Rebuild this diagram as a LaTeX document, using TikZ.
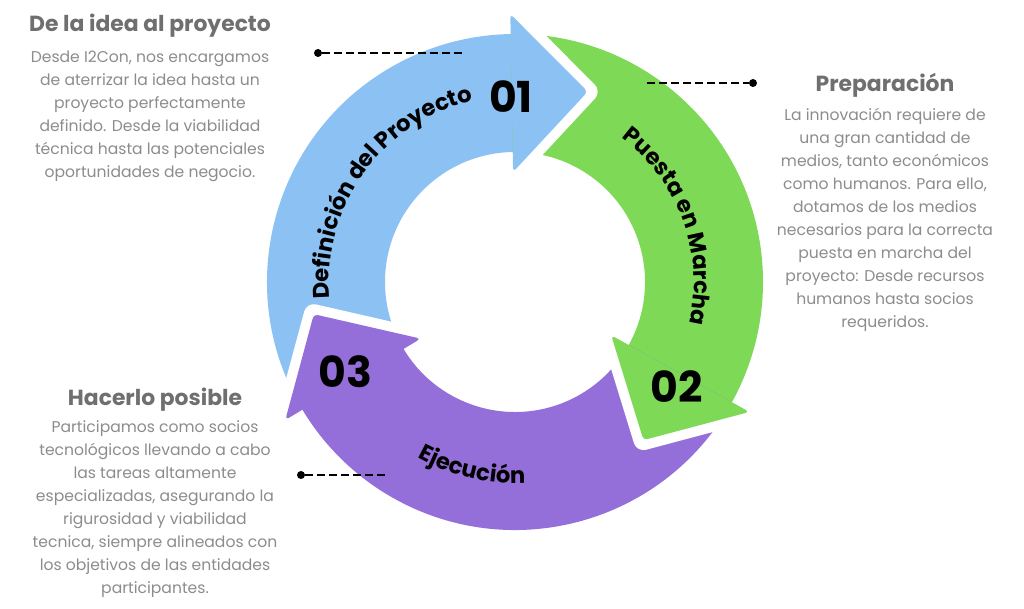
\documentclass[tikz,border=0pt]{standalone}
\usepackage{fontspec}
\setmainfont{Poppins}
\usetikzlibrary{calc,decorations.text}
\definecolor{blueA}{HTML}{8BC1F3}
\definecolor{greenA}{HTML}{7ED957}
\definecolor{purpleA}{HTML}{956FD9}
\definecolor{titlegray}{HTML}{6F6F6F}
\definecolor{bodygray}{HTML}{8C8C8C}
\newcommand{\arcfont}{\bfseries\fontsize{17}{19}\selectfont}

\begin{document}
\begin{tikzpicture}[x=0.75pt,y=0.75pt,
    headtext/.style={font=\bfseries\fontsize{16.4}{19}\selectfont,text=titlegray},
    bodytext/.style={font=\fontsize{11.7}{17.25}\selectfont,text=bodygray,align=center},
    enddot/.style={circle,fill,inner sep=0pt,minimum size=6pt},
    dashline/.style={line width=1.1pt,dash pattern=on 6pt off 3pt},
    steplabel/.style={font=\bfseries\fontsize{32}{32}\selectfont}]
    \useasboundingbox (0,0) rectangle (1024,609);

    % ring of three arrows
    \begin{scope}[shift={(515,327)}]
        \fill[blueA] (211:248) arc[start angle=211,end angle=90,radius=248]
            -- (90:130) arc[start angle=90,end angle=211,radius=130] -- cycle;
        \fill[greenA] (91:248) arc[start angle=91,end angle=-30,radius=248]
            -- (-30:130) arc[start angle=-30,end angle=91,radius=130] -- cycle;
        \fill[purpleA] (-29:248) arc[start angle=-29,end angle=-150,radius=248]
            -- (-150:130) arc[start angle=-150,end angle=-29,radius=130] -- cycle;
        \foreach \b/\col in {91/blueA,-29/greenA,-149/purpleA}{
            \draw[white,line width=15pt,line join=round] (\b:268) -- ($(\b:189)+(\b-90:76)$) -- (\b:110);
            \fill[\col,rounded corners=3pt] (\b:268) -- ($(\b:189)+(\b-90:76)$) -- (\b:110) -- cycle;
        }
        \path[decorate,decoration={text along path,text align=center,
            text={|\arcfont|Definición del Proyecto}}]
            (204:186) arc[start angle=204,end angle=84,radius=186];
        \path[decorate,decoration={text along path,text align=center,
            text={|\arcfont|Puesta en Marcha}}]
            (80:179) arc[start angle=80,end angle=-40,radius=179];
        \path[decorate,decoration={text along path,text align=center,
            text={|\arcfont|Ejecución}}]
            (197:201) arc[start angle=197,end angle=317,radius=201];
    \end{scope}

    \node[steplabel] (n1) at (511,512) {01};
    \node[steplabel] (n2) at (677,222) {02};
    \node[steplabel] (n3) at (345,237) {03};

    % text blocks
    \node[headtext] (t1) at (150,583) {De la idea al proyecto};
    \node[bodytext] (b1) at (150,493) {Desde I2Con, nos encargamos\\de aterrizar la idea hasta un\\proyecto perfectamente\\definido. Desde la viabilidad\\técnica hasta las potenciales\\oportunidades de negocio.};
    \node[headtext] (t2) at (885,524) {Preparación};
    \node[bodytext] (b2) at (885,389) {La innovación requiere de\\una gran cantidad de\\medios, tanto económicos\\como humanos. Para ello,\\dotamos de los medios\\necesarios para la correcta\\puesta en marcha del\\proyecto: Desde recursos\\humanos hasta socios\\requeridos.};
    \node[headtext] (t3) at (155,209) {Hacerlo posible};
    \node[bodytext] (b3) at (155,100) {Participamos como socios\\tecnológicos llevando a cabo\\las tareas altamente\\especializadas, asegurando la\\rigurosidad y viabilidad\\tecnica, siempre alineados con\\los objetivos de las entidades\\participantes.};

    % pointers
    \node[enddot] (d1) at (318,556) {};
    \coordinate (e1) at (464,556);
    \draw[dashline] (d1) -- (e1);
    \node[enddot] (d2) at (753,526) {};
    \coordinate (e2) at (647,526);
    \draw[dashline] (e2) -- (d2);
    \node[enddot] (d3) at (301,134) {};
    \coordinate (e3) at (388,134);
    \draw[dashline] (d3) -- (e3);
\end{tikzpicture}
\end{document}
